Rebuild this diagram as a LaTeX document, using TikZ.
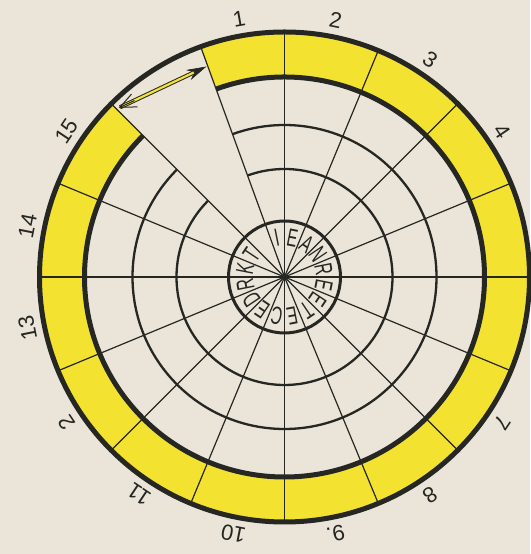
\documentclass[tikz,border=0pt]{standalone}
\usepackage{fontspec}
\setmainfont{Liberation Sans}
\usetikzlibrary{arrows.meta}
\definecolor{paper}{RGB}{234,229,216}
\definecolor{ringyellow}{RGB}{243,226,48}
\definecolor{ink}{RGB}{38,38,34}
\begin{document}
\begin{tikzpicture}[
  spoke/.style={draw=ink, line width=1.2pt},
  ringline/.style={draw=ink, line width=2.3pt},
  thickring/.style={draw=ink, line width=5pt},
  numlabel/.style={font=\fontsize{22}{22}\selectfont, text=ink, inner sep=0pt},
  letterlabel/.style={font=\fontsize{25}{25}\selectfont, text=ink, inner sep=0pt},
]
\fill[paper] (0,0) rectangle (530pt,554pt);
\useasboundingbox (0,0) rectangle (530pt,554pt);
\begin{scope}[shift={(284.5pt,277pt)}]
  \coordinate (O) at (0,0);
  % yellow ring with window
  \fill[ringyellow] (135:245pt) arc[start angle=135, end angle=470, radius=245pt]
     -- (470:200pt) arc[start angle=470, end angle=135, radius=200pt] -- cycle;
  % spokes
  \foreach \a [count=\i] in {90,110,135,157.5,180,202.5,225,247.5,270,292.5,315,337.5,0,22.5,45,67.5}
    \draw[spoke] (O) -- (\a:245pt) coordinate (s\i);
  % circles of the inner disc
  \draw[ringline] (135:108pt) arc[start angle=135, end angle=470, radius=108pt];
  \draw[ringline] (135:152pt) arc[start angle=135, end angle=470, radius=152pt];
  \draw[thickring] (135:200pt) arc[start angle=135, end angle=470, radius=200pt];
  \draw[thickring] (O) circle[radius=245pt];
  \draw[draw=ink, line width=3pt] (O) circle[radius=56pt];
  % letters in the centre
  \foreach \t [count=\i from 0] in {I,E,A,N,R,E,E,T,E,C,E,D,R,K,T}{
    \pgfmathsetmacro{\ang}{101.25-22.5*\i}
    \node[letterlabel, rotate=\ang-90] (l\i) at (\ang:40pt) {\scalebox{0.62}[1]{\t}};
  }
  % numbers round the rim
  \node[numlabel, rotate=10] (num1) at (100:262pt) {1};
  \foreach \t/\k/\s in {2/0/2,3/1/3,4/2/4,7/5/7,8/6/8,9./7/9,10/8/10,11/9/11,2/10/12,13/11/13,14/12/14,15/13/15}{
    \pgfmathsetmacro{\ang}{78.75-22.5*\k}
    \node[numlabel, rotate=\ang-90] (num\s) at (\ang:262pt) {\t};
  }
  % arrow
  \coordinate (atail) at (-164.5pt,169.7pt);
  \coordinate (ahead) at (-78pt,210.5pt);
  \coordinate (f1) at (-153pt,182.9pt);
  \coordinate (f2) at (-147pt,170.1pt);
  \coordinate (f0) at (-150pt,176.5pt);
  \draw[ink, line width=0.6pt, -{Stealth[length=20pt, width=11pt]}] (atail) -- (ahead);
  \draw[ink, line width=4.2pt, shorten >=14pt] (atail) -- (ahead);
  \draw[ringyellow, line width=2.2pt, shorten >=14pt, shorten <=1pt] (atail) -- (ahead);
  \draw[ink, line width=1pt] (f1) -- (atail) -- (f2);
  \draw[ink, line width=1pt] (atail) -- (f0);
\end{scope}
\end{tikzpicture}
\end{document}
